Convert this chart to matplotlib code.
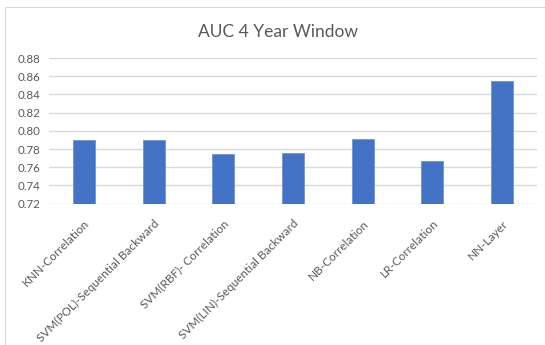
import matplotlib.pyplot as plt
from matplotlib.patches import Rectangle

# AUC per model/feature-selection combo, 4 year window
models = [
    "KNN-Correlation",
    "SVM(POL)-Sequential Backward",
    "SVM(RBF)- Correlation",
    "SVM(LIN)-Sequential Backward",
    "NB-Correlation",
    "LR-Correlation",
    "NN-Layer",
]
auc = [0.790, 0.790, 0.775, 0.776, 0.791, 0.767, 0.855]
yticks = [0.72, 0.74, 0.76, 0.78, 0.80, 0.82, 0.84, 0.86, 0.88]

plt.rcParams['font.family'] = ['Lato', 'DejaVu Sans']
text_color = '#595959'

fig = plt.figure(figsize=(5.45, 3.45), dpi=100)
ax = fig.add_axes([49 / 545, 1 - 203.7 / 345, 488 / 545, (203.7 - 58) / 345])

ax.bar(range(len(models)), auc, width=0.315, bottom=0, color='#4472C4',
       edgecolor='#6f93d6', linewidth=0.6, zorder=3)
ax.set_ylim(0.72, 0.88)
ax.set_xlim(-0.5, len(models) - 0.5)
ax.set_yticks(yticks)
ax.set_yticklabels([f"{v:.2f}" for v in yticks], color=text_color, fontsize=8.3)
ax.set_xticks(range(len(models)))
ax.set_xticklabels(models, rotation=45, ha='right', rotation_mode='anchor',
                   color=text_color, fontsize=8.5)
ax.tick_params(length=0, pad=6)
ax.tick_params(axis='x', pad=10)
ax.grid(axis='y', color='#d9d9d9', linewidth=1.0, zorder=0)
for s in ax.spines.values():
    s.set_visible(False)

fig.text(278 / 545, 1 - 32 / 345, "AUC 4 Year Window", ha='center', va='center',
         fontsize=12.5, color=text_color)

# light chart-area border
fig.add_artist(Rectangle((5 / 545, -0.1), 1.2, 1 - 7 / 345 + 0.1,
                         transform=fig.transFigure, fill=False,
                         edgecolor='#d9d9d9', linewidth=0.8))

fig.savefig("out.png", dpi=100)
